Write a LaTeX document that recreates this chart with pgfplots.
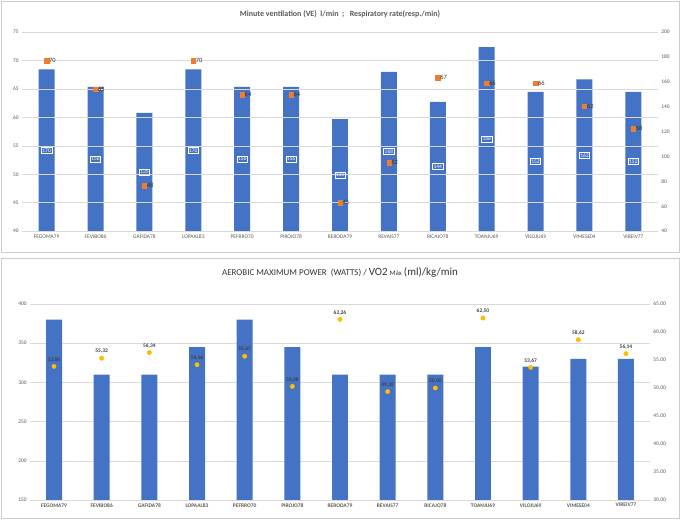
\documentclass[border=0pt]{standalone}
\usepackage{pgfplots}
\pgfplotsset{compat=1.18}
\usepackage{fontspec}
\setmainfont{Carlito}
\definecolor{barblue}{RGB}{68,114,196}
\definecolor{orng}{RGB}{237,125,49}
\definecolor{gold}{RGB}{255,192,0}
\definecolor{tickgray}{RGB}{89,89,89}
\begin{document}
\begin{tikzpicture}
\draw[white] (0bp,0bp) rectangle (680bp,-519bp);
\draw[gray!40] (1bp,-1bp) rectangle (679bp,-252bp);
\draw[gray!40] (1bp,-258bp) rectangle (679bp,-518bp);
\node[font=\bfseries\fontsize{8}{9}\selectfont, text=tickgray] at (340bp,-14bp) {Minute ventilation (VE)\ \ l/min\ \ ;\ \ \ Respiratory rate(resp./min)};
\node[font=\fontsize{9}{10}\selectfont, text=black!80] at (340bp,-272bp) {AEROBIC MAXIMUM POWER\ \ (WATTS) / {\fontsize{11}{12}\selectfont VO2} {\fontsize{7}{8}\selectfont Máx} {\fontsize{11}{12}\selectfont (ml)/kg/min}};
\pgfplotsset{
  common/.style={scale only axis, xmin=-0.5, xmax=12.5,
    xtick={0,...,12}, tick style={draw=none},
    ticklabel style={font=\fontsize{5.5}{6}\selectfont, text=tickgray},
    /pgf/number format/assume math mode=true,
    axis line style={draw=none}, clip=false},
}
% ---------- TOP ----------
\begin{axis}[common, at={(22bp,-231bp)}, anchor=south west, width=636bp, height=199bp,
  ymin=40, ymax=200, ytick={40,60,...,200}, axis y line*=right, axis x line*=bottom,
  xticklabels={FEGOMA79,FEVIBO86,GAFIDA78,LOPAAL83,PEFRRO70,PIROJO78,RERODA79,REVAIS77,RICAJO78,TOANJU69,VILOJU69,VIMESE04,VIREIV77}]
\addplot[ybar, bar width=16bp, fill=barblue, draw=none] coordinates {
(0,170)(1,156)(2,135)(3,170)(4,156)(5,156)(6,130)(7,168)(8,144)(9,188)(10,152)(11,162)(12,152)};
\addplot[only marks, mark=none, point meta=explicit, nodes near coords,
  every node near coord/.append style={anchor=center, font=\fontsize{5.5}{6}\selectfont, text=white, draw=white, line width=0.5pt, inner sep=1pt, fill=barblue}]
 coordinates {(0,105)[170](1,98)[156](2,87.5)[135](3,105)[170](4,98)[156](5,98)[156](6,85)[130](7,104)[168](8,92)[144](9,114)[188](10,96)[152](11,101)[162](12,96)[152]};
\end{axis}
\begin{axis}[common, at={(22bp,-231bp)}, anchor=south west, width=636bp, height=199bp,
  ymin=40, ymax=75, ytick={40,45,...,75}, axis y line*=left, xticklabels={},
  ymajorgrids, grid style={gray!30}]
\addplot[only marks, mark=square*, mark size=2.2, color=orng, nodes near coords,
  every node near coord/.append style={anchor=west, font=\fontsize{6.5}{7}\selectfont, text=black!80, xshift=-1pt}]
 coordinates {(0,70)(1,65)(2,48)(3,70)(4,64)(5,64)(6,45)(7,52)(8,67)(9,66)(10,66)(11,62)(12,58)};
\end{axis}
% ---------- BOTTOM ----------
\begin{axis}[common, at={(30bp,-500bp)}, anchor=south west, width=620bp, height=196bp,
  ymin=150, ymax=400, ytick={150,200,...,400}, axis y line*=left, axis x line*=bottom,
  ymajorgrids, grid style={gray!30},
  xticklabels={FEGOMA79,FEVIBO86,GAFIDA78,LOPAAL83,PEFRRO70,PIROJO78,RERODA79,REVAIS77,RICAJO78,TOANJU69,VILOJU69,VIMESE04,VIREIV77},
  xticklabel style={font=\bfseries\fontsize{5.5}{6}\selectfont}]
\addplot[ybar, bar width=16bp, fill=barblue, draw=none] coordinates {
(0,380)(1,310)(2,310)(3,345)(4,380)(5,345)(6,310)(7,310)(8,310)(9,345)(10,320)(11,330)(12,330)};
\end{axis}
\begin{axis}[common, at={(30bp,-500bp)}, anchor=south west, width=620bp, height=196bp,
  ymin=30, ymax=65, ytick={30,35,...,65}, axis y line*=right, xticklabels={},
  yticklabel style={/pgf/number format/.cd, fixed, fixed zerofill, precision=2, use comma}]
\addplot[only marks, mark=*, mark size=2.2, color=gold!85!orange, fill=gold, point meta=explicit symbolic, nodes near coords,
  every node near coord/.append style={anchor=south, font=\bfseries\fontsize{5.5}{6}\selectfont, text=black!75, yshift=1pt}]
 coordinates {(0,53.86)[53,86](1,55.32)[55,32](2,56.34)[56,34](3,54.16)[54,16](4,55.67)[55,67](5,50.28)[50,28](6,62.26)[62,26](7,49.35)[49,35](8,50.00)[50,00](9,62.50)[62,50](10,53.67)[53,67](11,58.62)[58,62](12,56.14)[56,14]};
\end{axis}
\end{tikzpicture}
\end{document}
